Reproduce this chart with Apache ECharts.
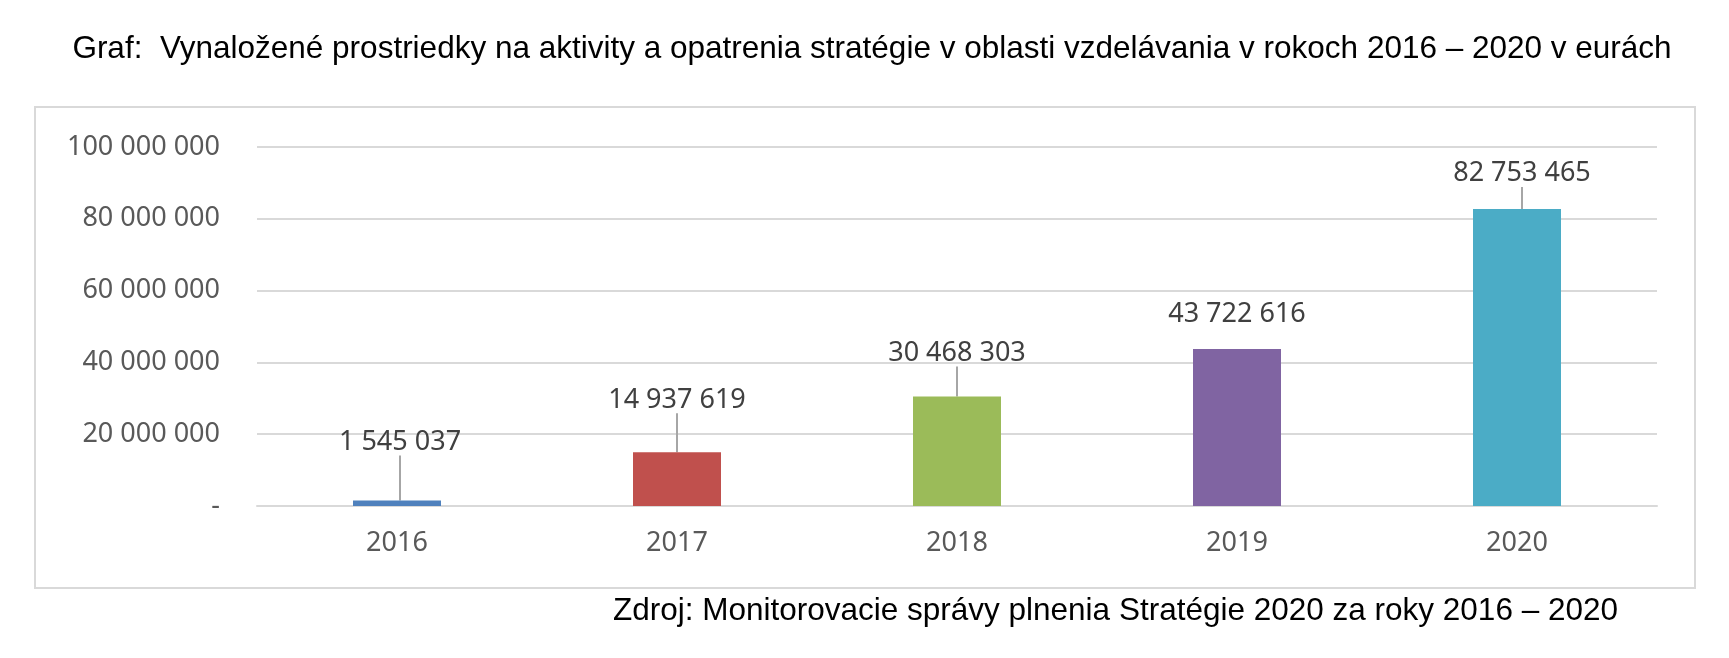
<!DOCTYPE html>
<html>
<head>
<meta charset="utf-8">
<script src="https://cdn.jsdelivr.net/npm/echarts@6/dist/echarts.min.js"></script>
<style>
  html, body { margin: 0; padding: 0; background: #fff; }
  #chart { width: 1729px; height: 658px; }
</style>
</head>
<body>
<div id="chart"></div>
<script>
// data
const years = ['2016', '2017', '2018', '2019', '2020']
const spent = [1545037, 14937619, 30468303, 43722616, 82753465]
const barColors = ['#4F81BD', '#C0504D', '#9BBB59', '#8064A2', '#4BACC6']
const yTicks = [0, 20000000, 40000000, 60000000, 80000000, 100000000]

const titleText = 'Graf:  Vynaložené prostriedky na aktivity a opatrenia stratégie v oblasti vzdelávania v rokoch 2016 – 2020 v eurách'
const sourceText = 'Zdroj: Monitorovacie správy plnenia Stratégie 2020 za roky 2016 – 2020'

// label shifts (Excel-like leader lines)
const labelShift = [[3, -40], [0, -34], [0, -25], [0, -16], [5, -17]]
const showLeader = [true, true, true, false, true]

const fmt = v => v === 0 ? '-' : String(v).replace(/\B(?=(\d{3})+(?!\d))/g, ' ')

const textFont = '"Liberation Sans Narrow", "Arial Narrow", "Liberation Sans", sans-serif'
const numFont = '"Noto Sans", sans-serif'

const chart = echarts.init(document.getElementById('chart'))

const option = {
  animation: false,
  graphic: [
    {
      type: 'rect',
      shape: { x: 35, y: 107, width: 1660, height: 481 },
      style: { fill: 'none', stroke: '#d9d9d9', lineWidth: 2 },
      z: -1
    },
    {
      type: 'text', x: 872, y: 49,
      style: { text: titleText, font: '31.5px ' + textFont, fill: '#000', textAlign: 'center', textVerticalAlign: 'middle' }
    },
    {
      type: 'text', x: 1618, y: 611,
      style: { text: sourceText, font: '31.5px ' + textFont, fill: '#000', textAlign: 'right', textVerticalAlign: 'middle' }
    }
  ],
  grid: { left: 257, right: 72, top: 147, bottom: 152 },
  xAxis: {
    type: 'category',
    data: years,
    axisLine: { lineStyle: { color: '#d9d9d9', width: 2 } },
    axisTick: { show: false },
    axisLabel: { color: '#595959', fontSize: 27, fontFamily: numFont, margin: 24 }
  },
  yAxis: {
    type: 'value',
    min: 0, max: 100000000, interval: 20000000,
    axisLine: { show: false },
    axisTick: { show: false },
    splitLine: { lineStyle: { color: '#d9d9d9', width: 2 } },
    axisLabel: {
      color: '#595959', fontSize: 27, fontFamily: numFont, margin: 37,
      formatter: v => yTicks.includes(v) ? fmt(v) : ''
    }
  },
  series: [{
    type: 'bar',
    barWidth: 88,
    data: spent.map((v, i) => ({
      value: v,
      itemStyle: { color: barColors[i] },
      labelLine: { show: showLeader[i] }
    })),
    label: {
      show: true,
      position: 'top',
      color: '#404040',
      fontSize: 27,
      fontFamily: numFont,
      formatter: p => fmt(p.value)
    },
    labelLine: { show: true, lineStyle: { color: '#a6a6a6', width: 2 } },
    labelLayout: p => ({ dx: labelShift[p.dataIndex][0], dy: labelShift[p.dataIndex][1] })
  }]
}

chart.setOption(option)
</script>
</body>
</html>
